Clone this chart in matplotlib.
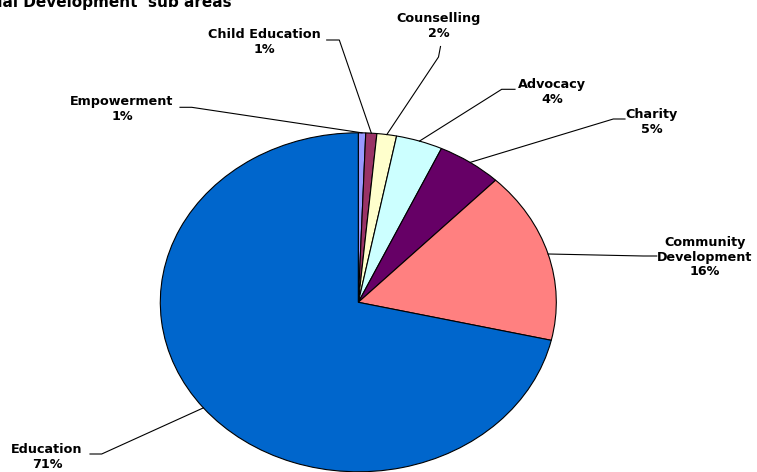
import matplotlib
matplotlib.use("Agg")
import matplotlib.pyplot as plt
import numpy as np

# --- data -------------------------------------------------------------
categories = ["Empowerment", "Child Education", "Counselling", "Advocacy",
              "Charity", "Community\nDevelopment", "Education"]
shares = [0.6, 0.9, 1.6, 3.8, 5.3, 16.4, 71.4]
colors = ["#9999FF", "#993366", "#FFFFCC", "#CCFFFF",
          "#660066", "#FF8080", "#0066CC"]
title = "Social Development  sub areas"

# --- layout (pixels, origin top-left) ---------------------------------
W, H = 757, 472
CX, CY = 358.3, 302.3      # pie centre
RX, RY = 198.0, 169.5      # horizontal / vertical radius

# label block centre and the short connector next to it
label_pos = [(122, 109), (264, 42), (439, 26), (552, 92),
             (652, 122), (705, 257), (47, 457)]
connectors = [((191.7, 107.3), (180.0, 107.3)),
              ((339.3, 40.0), (326.7, 40.0)),
              ((438.5, 57.0), (440.5, 46.5)),
              ((501.7, 89.3), (515.0, 89.3)),
              ((613.3, 119.0), (625.0, 119.0)),
              ((643.3, 256.0), (656.7, 256.0)),
              ((101.7, 454.0), (90.0, 454.0))]


def to_data(x, y):
    return (x - CX) / RX, (CY - y) / RY


fig = plt.figure(figsize=(W / 100, H / 100), dpi=100)
ax = fig.add_axes([0, 0, 1, 1])
ax.axis("off")

wedges, _ = ax.pie(shares, colors=colors, startangle=90, counterclock=False,
                   radius=1.0,
                   wedgeprops=dict(edgecolor="black", linewidth=0.8))
ax.set_aspect("auto")
ax.set_xlim(-CX / RX, (W - CX) / RX)
ax.set_ylim((CY - H) / RY, CY / RY)

font = dict(family="DejaVu Sans", fontweight="bold", fontsize=9.2)

for w, name, val, (tx, ty), (elbow, end) in zip(
        wedges, categories, shares, label_pos, connectors):
    mid = np.deg2rad((w.theta1 + w.theta2) / 2)
    px, py = np.cos(mid), np.sin(mid)
    ex, ey = to_data(*elbow)
    nx, ny = to_data(*end)
    ax.plot([px, ex, nx], [py, ey, ny], color="black", lw=0.8,
            solid_joinstyle="miter")
    lx, ly = to_data(tx, ty)
    ax.text(lx, ly, f"{name}\n{val:.0f}%", ha="center", va="center",
            multialignment="center", linespacing=1.15, **font)

tx, ty = to_data(232, 7.3)
ax.text(tx, ty, title, ha="right", va="baseline", family="DejaVu Sans",
        fontweight="bold", fontsize=11.0)

fig.savefig("out.png", dpi=100)
